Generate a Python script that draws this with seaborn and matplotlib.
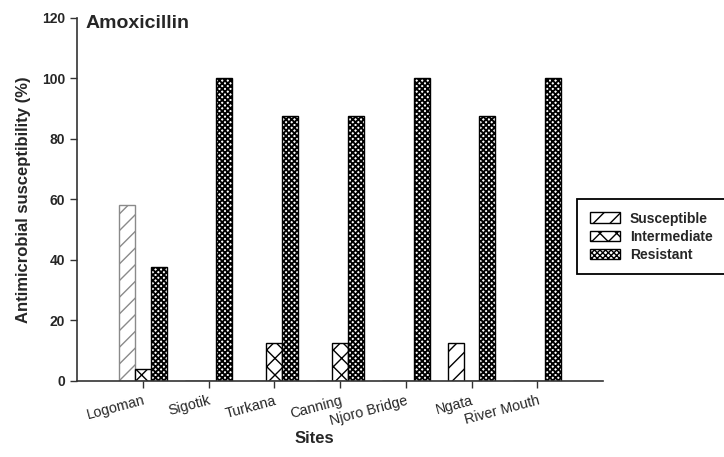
import matplotlib
matplotlib.use("Agg")
import matplotlib.pyplot as plt
import matplotlib.patches as mpatches
import seaborn as sns
import pandas as pd

sites = ["Logoman", "Sigotik", "Turkana", "Canning", "Njoro Bridge", "Ngata", "River Mouth"]
categories = ["Susceptible", "Intermediate", "Resistant"]
susceptible = [58, 0, 0, 0, 0, 12.5, 0]
intermediate = [4, 0, 12.5, 12.5, 0, 0, 0]
resistant = [37.5, 100, 87.5, 87.5, 100, 87.5, 100]
yticks = [0, 20, 40, 60, 80, 100, 120]

rows = []
for cat, vals in zip(categories, [susceptible, intermediate, resistant]):
    for s, v in zip(sites, vals):
        rows.append({"Site": s, "Category": cat, "Value": v})
df = pd.DataFrame(rows)

sns.set_style("ticks")
plt.rcParams["font.family"] = ["Liberation Sans", "DejaVu Sans"]
plt.rcParams["hatch.linewidth"] = 1.0

fig = plt.figure(figsize=(7.24, 4.57), dpi=100)
ax = fig.add_axes([77 / 724, 1 - 381 / 457, (603 - 77) / 724, (381 - 17.6) / 457])

sns.barplot(data=df, x="Site", y="Value", hue="Category", order=sites,
            hue_order=categories, palette=["white"] * 3, edgecolor="black",
            linewidth=1.0, width=0.73, legend=False, ax=ax, errorbar=None)

hatches = ["//", "xx", "xxxxxx"]
hatch_lw = [1.0, 1.0, 1.35]


def style_patch(p, h, lw):
    p.set_hatch(h)
    if hasattr(p, "set_hatch_linewidth"):
        p.set_hatch_linewidth(lw)


for cont, h, lw in zip(ax.containers, hatches, hatch_lw):
    for p in cont.patches:
        style_patch(p, h, lw)
# first susceptible bar drawn in grey
ax.containers[0].patches[0].set_edgecolor("#8a8a8a")

ax.set_xlim(-1, 7)
ax.set_ylim(0, 120)
ax.set_yticks(yticks)
ax.set_yticklabels([str(t) for t in yticks], fontsize=10, fontweight="bold")
ax.set_xticks(range(len(sites)))
ax.set_xticklabels(sites, fontsize=10.3, rotation=15, ha="right", rotation_mode="anchor")
ax.tick_params(axis="both", direction="out", length=5, width=1, color="#333333")
ax.tick_params(axis="x", pad=4)
for sp in ["top", "right"]:
    ax.spines[sp].set_visible(False)
for sp in ["left", "bottom"]:
    ax.spines[sp].set_linewidth(1.2)
    ax.spines[sp].set_color("#333333")

ax.set_ylabel("Antimicrobial susceptibility (%)", fontsize=12, fontweight="bold", labelpad=8)
ax.set_xlabel("Sites", fontsize=12, fontweight="bold")
ax.xaxis.set_label_coords(0.452, -0.137)
ax.text(0.017, 1.006, "Amoxicillin", transform=ax.transAxes, fontsize=14,
        fontweight="bold", va="top", ha="left")

handles = []
for h, c, lw in zip(hatches, categories, hatch_lw):
    hp = mpatches.Patch(facecolor="white", edgecolor="black", label=c)
    style_patch(hp, h, lw)
    handles.append(hp)
leg = fig.legend(handles=handles, loc="upper left", bbox_to_anchor=(577 / 724, 1 - 199 / 457),
                 frameon=True, fancybox=False, edgecolor="black", framealpha=1,
                 prop={"weight": "bold", "size": 10}, handlelength=2.2, handleheight=0.8,
                 labelspacing=0.3, handletextpad=0.7, borderpad=0.9, borderaxespad=0)
leg.get_frame().set_linewidth(1.3)

fig.savefig("out.png", dpi=100)
